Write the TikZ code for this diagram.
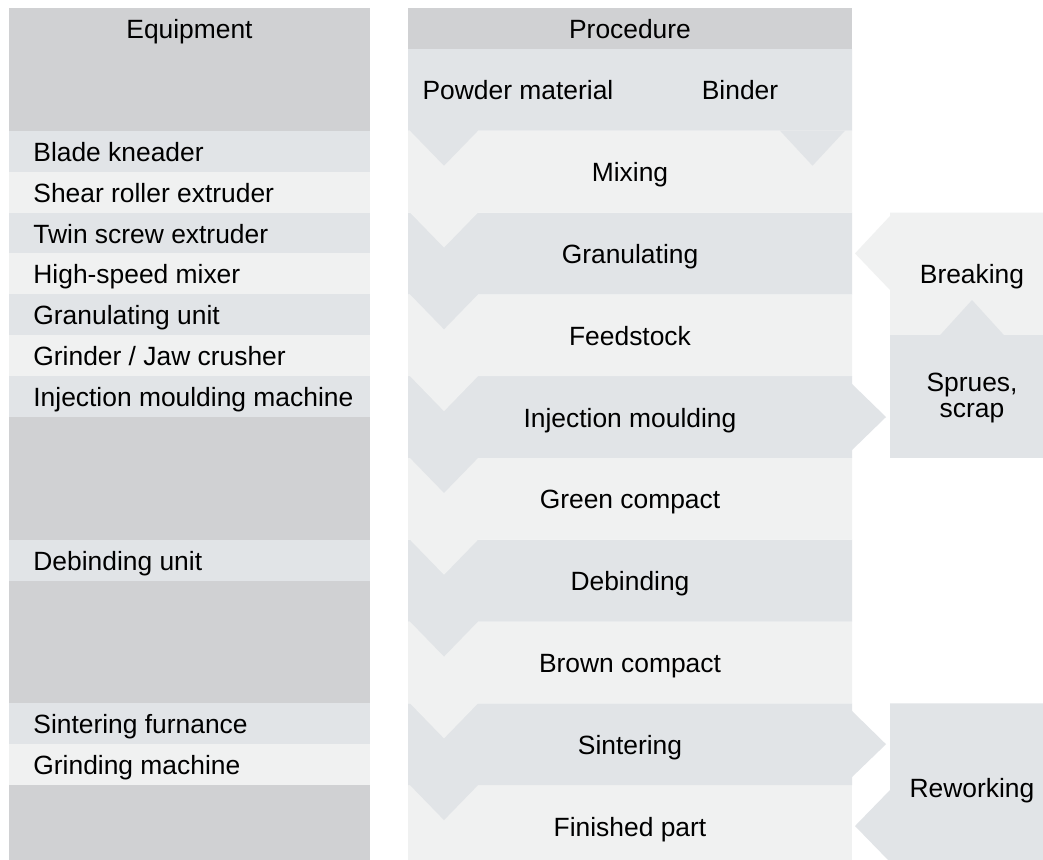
\documentclass[tikz,border=0pt]{standalone}
\usepackage{fontspec}
\setmainfont{Liberation Sans}
\definecolor{bandDark}{RGB}{208,209,211}
\definecolor{bandMid}{RGB}{225,228,231}
\definecolor{bandLight}{RGB}{240,241,241}
% a procedure band with its downward pointer at the lower left
\newcommand\procband[3]{\fill[#1] (408,#2) -- (852,#2) -- (852,#3) -- (478,#3) -- (444,{#3+35}) -- (410,#3) -- (408,#3) -- cycle;}
\begin{document}
\begin{tikzpicture}[x=0.5pt,y=-0.5pt,
  lbl/.style={font=\fontsize{13.2}{13.2}\selectfont, inner sep=0pt, anchor=base, text=black},
  eq/.style={lbl, anchor=base west},
  sidebox/.style={lbl, align=center}]
\useasboundingbox (0,0) rectangle (1043,859);
\clip (0,0) rectangle (1043,859);
\fill[white] (0,0) rectangle (1043,859);

% ---------- equipment column ----------
\fill[bandDark]  (9,8)     rectangle (370,130.7);
\fill[bandMid]   (9,130.7) rectangle (370,171.6);
\fill[bandLight] (9,171.6) rectangle (370,212.5);
\fill[bandMid]   (9,212.5) rectangle (370,253.4);
\fill[bandLight] (9,253.4) rectangle (370,294.3);
\fill[bandMid]   (9,294.3) rectangle (370,335.2);
\fill[bandLight] (9,335.2) rectangle (370,376.1);
\fill[bandMid]   (9,376.1) rectangle (370,417);
\fill[bandDark]  (9,417)   rectangle (370,539.7);
\fill[bandMid]   (9,539.7) rectangle (370,580.6);
\fill[bandDark]  (9,580.6) rectangle (370,703.3);
\fill[bandMid]   (9,703.3) rectangle (370,744.2);
\fill[bandLight] (9,744.2) rectangle (370,785.1);
\fill[bandDark]  (9,785.1) rectangle (370,866.9);

\node[lbl] (hdrEq) at (189.5,38.5) {Equipment};
\node[eq] (eqA) at (33,161.2) {Blade kneader};
\node[eq] (eqB) at (33,202.0) {Shear roller extruder};
\node[eq] (eqC) at (33,243.0) {Twin screw extruder};
\node[eq] (eqD) at (33,283.9) {High-speed mixer};
\node[eq] (eqE) at (33,324.8) {Granulating unit};
\node[eq] (eqF) at (33,365.7) {Grinder / Jaw crusher};
\node[eq] (eqG) at (33,406.6) {Injection moulding machine};
\node[eq] (eqH) at (33,570.2) {Debinding unit};
\node[eq] (eqI) at (33,733.8) {Sintering furnance};
\node[eq] (eqJ) at (33,774.7) {Grinding machine};

% ---------- procedure column (drawn bottom-up so pointers overlap) ----------
\fill[bandLight] (408,785.1) rectangle (852,866.9);
\procband{bandMid}{703.3}{785.1}
\fill[bandMid] (851,710) -- (886,744.2) -- (851,778) -- cycle;
\procband{bandLight}{621.5}{703.3}
\procband{bandMid}{539.7}{621.5}
\procband{bandLight}{457.9}{539.7}
\procband{bandMid}{376.1}{457.9}
\fill[bandMid] (851,383) -- (886,417) -- (851,451) -- cycle;
\procband{bandLight}{294.3}{376.1}
\procband{bandMid}{212.5}{294.3}
\procband{bandLight}{130.7}{212.5}
\procband{bandMid}{48.9}{130.7}
\fill[bandMid] (780,130.7) -- (812.5,165.7) -- (845,130.7) -- cycle;
\fill[bandDark] (408,8) rectangle (852,48.9);

\node[lbl] (hdrPr) at (630,38.5) {Procedure};
\node[lbl] (powder) at (518,99.8) {Powder material};
\node[lbl] (binder) at (740,99.8) {Binder};
\node[lbl] (mix)   at (630,181.6) {Mixing};
\node[lbl] (gran)  at (630,263.4) {Granulating};
\node[lbl] (feed)  at (630,345.2) {Feedstock};
\node[lbl] (inj)   at (630,427.0) {Injection moulding};
\node[lbl] (green) at (630,508.8) {Green compact};
\node[lbl] (debd)  at (630,590.6) {Debinding};
\node[lbl] (brown) at (630,672.4) {Brown compact};
\node[lbl] (sint)  at (630,754.2) {Sintering};
\node[lbl] (fin)   at (630,836.0) {Finished part};

% ---------- side loops ----------
\fill[bandLight] (890,212.5) -- (1054,212.5) -- (1054,335.2) -- (890,335.2)
  -- (890,290) -- (855,253.4) -- (890,216) -- cycle;
\fill[bandMid] (890,335.2) -- (940,335.2) -- (972,300) -- (1004,335.2)
  -- (1054,335.2) -- (1054,457.9) -- (890,457.9) -- cycle;
\fill[bandMid] (890,703.3) -- (1054,703.3) -- (1054,866.9) -- (890,866.9)
  -- (890,862) -- (855,826) -- (890,790) -- cycle;

\node[lbl] (brk) at (972,283.5) {Breaking};
\node[sidebox, anchor=center] (spr) at (972,398) {Sprues,\\scrap};
\node[lbl] (rew) at (972,797) {Reworking};
\end{tikzpicture}
\end{document}
